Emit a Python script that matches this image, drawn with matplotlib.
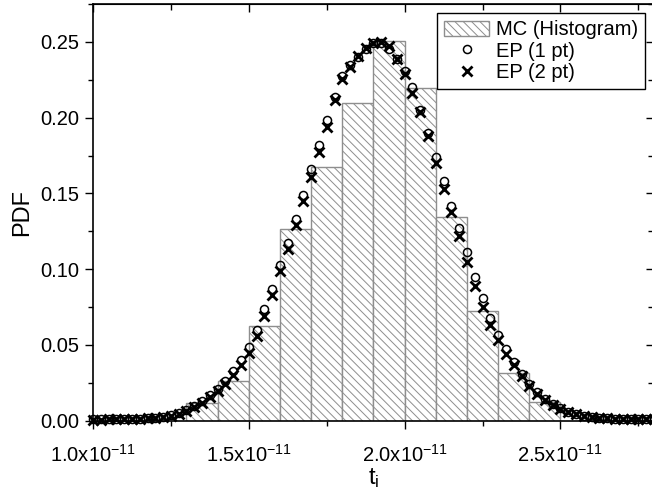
import matplotlib
matplotlib.use("Agg")
import numpy as np
import matplotlib.pyplot as plt
from matplotlib.ticker import MultipleLocator, FixedLocator, FuncFormatter

plt.rcParams['font.family'] = ['Liberation Sans', 'DejaVu Sans']
plt.rcParams['mathtext.fontset'] = 'custom'
plt.rcParams['mathtext.rm'] = 'Liberation Sans'
plt.rcParams['hatch.linewidth'] = 0.7

# MC histogram (bin left edges in units of 1e-11 s, bin width 0.1e-11)
hist_left = [1.3, 1.4, 1.5, 1.6, 1.7, 1.8, 1.9, 2.0, 2.1, 2.2, 2.3, 2.4]
hist_pdf = [0.0120, 0.0265, 0.0624, 0.1266, 0.1673, 0.2099,
            0.2503, 0.2198, 0.1345, 0.0721, 0.0318, 0.0122]

# EP estimates, t in units of 1e-11 s
t_ep = [1.000, 1.025, 1.050, 1.075, 1.100, 1.125, 1.150, 1.175, 1.200, 1.225,
        1.250, 1.275, 1.300, 1.325, 1.350, 1.375, 1.400, 1.425, 1.450, 1.475,
        1.500, 1.525, 1.550, 1.575, 1.600, 1.625, 1.650, 1.675, 1.700, 1.725,
        1.750, 1.775, 1.800, 1.825, 1.850, 1.875, 1.900, 1.925, 1.950, 1.975,
        2.000, 2.025, 2.050, 2.075, 2.100, 2.125, 2.150, 2.175, 2.200, 2.225,
        2.250, 2.275, 2.300, 2.325, 2.350, 2.375, 2.400, 2.425, 2.450, 2.475,
        2.500, 2.525, 2.550, 2.575, 2.600, 2.625, 2.650, 2.675, 2.700, 2.725,
        2.750, 2.775, 2.800]
ep1_pdf = [0.0008, 0.0008, 0.0009, 0.0009, 0.0010, 0.0011, 0.0013, 0.0016, 0.0020, 0.0026,
           0.0036, 0.0050, 0.0070, 0.0098, 0.0130, 0.0168, 0.0212, 0.0260, 0.0325, 0.0400,
           0.0485, 0.0600, 0.0735, 0.0870, 0.1030, 0.1175, 0.1330, 0.1490, 0.1660, 0.1820,
           0.1985, 0.2135, 0.2275, 0.2345, 0.2400, 0.2450, 0.2490, 0.2495, 0.2455, 0.2390,
           0.2310, 0.2200, 0.2050, 0.1900, 0.1740, 0.1580, 0.1420, 0.1270, 0.1110, 0.0950,
           0.0810, 0.0680, 0.0565, 0.0470, 0.0385, 0.0310, 0.0245, 0.0190, 0.0145, 0.0110,
           0.0082, 0.0060, 0.0044, 0.0033, 0.0025, 0.0019, 0.0016, 0.0014, 0.0012, 0.0011,
           0.0010, 0.0010, 0.0009]
ep2_pdf = [0.0007, 0.0007, 0.0008, 0.0008, 0.0009, 0.0010, 0.0012, 0.0015, 0.0018, 0.0024,
           0.0033, 0.0046, 0.0065, 0.0090, 0.0120, 0.0156, 0.0198, 0.0240, 0.0300, 0.0370,
           0.0450, 0.0560, 0.0690, 0.0830, 0.0985, 0.1130, 0.1290, 0.1450, 0.1610, 0.1775,
           0.1940, 0.2115, 0.2255, 0.2335, 0.2405, 0.2460, 0.2495, 0.2500, 0.2470, 0.2385,
           0.2290, 0.2165, 0.2035, 0.1880, 0.1700, 0.1530, 0.1380, 0.1220, 0.1050, 0.0890,
           0.0750, 0.0633, 0.0530, 0.0440, 0.0365, 0.0295, 0.0230, 0.0178, 0.0136, 0.0103,
           0.0077, 0.0056, 0.0041, 0.0031, 0.0023, 0.0018, 0.0015, 0.0013, 0.0012, 0.0011,
           0.0010, 0.0009, 0.0009]

x_major = [1.0, 1.5, 2.0, 2.5]
x_minor = [1.25, 1.75, 2.25, 2.75]
scale = 1e-11

fig = plt.figure(figsize=(6.52, 4.94), dpi=100)
ax = fig.add_axes([0.1426, 0.1484, 0.8604, 0.8435])

bars = ax.bar(np.array(hist_left) * scale, hist_pdf, width=0.1 * scale, align='edge',
              facecolor='white', edgecolor='#8e8e8e', linewidth=1.0, hatch='\\\\\\\\',
              label='MC (Histogram)', zorder=2)
l1, = ax.plot(np.array(t_ep) * scale, ep1_pdf, linestyle='none', marker='o', markersize=5.8,
              markerfacecolor='none', markeredgecolor='black', markeredgewidth=1.1,
              label='EP (1 pt)', zorder=3, clip_on=False)
l2, = ax.plot(np.array(t_ep) * scale, ep2_pdf, linestyle='none', marker='x', markersize=6.8,
              color='black', markeredgewidth=2.0, label='EP (2 pt)', zorder=4, clip_on=False)

ax.set_xlim(1.0 * scale, 2.8 * scale)
ax.set_ylim(0, 0.275)

def sci_fmt(v, pos):
    return r'$\mathregular{%.1fx10^{-11}}$' % (v / scale)

xmaj = [v * scale for v in x_major]
xmin = [v * scale for v in x_minor]
ax.xaxis.set_major_locator(FixedLocator(xmaj))
ax.xaxis.set_minor_locator(FixedLocator(xmin))
ax.xaxis.set_major_formatter(FuncFormatter(sci_fmt))
ax.yaxis.set_major_locator(MultipleLocator(0.05))
ax.yaxis.set_minor_locator(MultipleLocator(0.025))
ax.yaxis.set_major_formatter(FuncFormatter(lambda v, p: '%.2f' % v))

ax.tick_params(which='major', direction='out', length=6, width=1.0, labelsize=14.5)
ax.tick_params(which='minor', direction='out', length=3.5, width=1.0)
ax.tick_params(axis='x', which='major', pad=11)
ax.tick_params(axis='y', which='major', pad=4)

sec = ax.secondary_xaxis('top')
sec.xaxis.set_major_locator(FixedLocator(xmaj))
sec.xaxis.set_minor_locator(FixedLocator(xmin))
sec.tick_params(which='major', direction='in', length=6, width=1.0, labeltop=False)
sec.tick_params(which='minor', direction='in', length=4, width=1.0)
sec2 = ax.secondary_yaxis('right')
sec2.yaxis.set_major_locator(MultipleLocator(0.05))
sec2.yaxis.set_minor_locator(MultipleLocator(0.025))
sec2.tick_params(which='major', direction='in', length=6, width=1.0, labelright=False)
sec2.tick_params(which='minor', direction='in', length=4, width=1.0)

for s in ax.spines.values():
    s.set_linewidth(1.2)

ax.set_xlabel(r'$\mathregular{t_i}$', fontsize=17, labelpad=0)
ax.set_ylabel('PDF', fontsize=17, labelpad=5)

leg = ax.legend([bars, l1, l2], ['MC (Histogram)', 'EP (1 pt)', 'EP (2 pt)'],
                loc='upper right', bbox_to_anchor=(0.984, 0.978), borderaxespad=0,
                fontsize=14.5, fancybox=False, frameon=True, edgecolor='black',
                numpoints=1, handlelength=2.2, handleheight=0.8, handletextpad=0.35,
                labelspacing=0.12, borderpad=0.35)
leg.get_frame().set_linewidth(1.0)
leg.get_frame().set_alpha(1)

fig.savefig('out.png', dpi=100)
